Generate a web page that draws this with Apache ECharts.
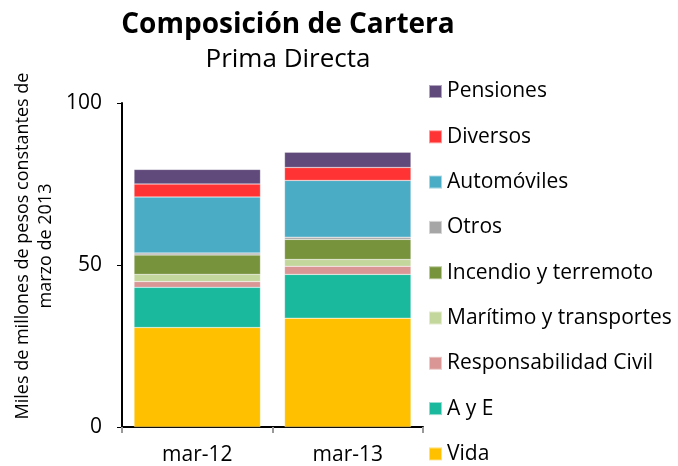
<!DOCTYPE html>
<html>
<head>
<meta charset="utf-8">
<script src="https://cdn.jsdelivr.net/npm/echarts@6/dist/echarts.min.js"></script>
<style>
  html, body { margin: 0; padding: 0; background: #fff; }
  #chart { width: 678px; height: 466px; }
</style>
</head>
<body>
<div id="chart"></div>
<script>
// categorias y valores (miles de millones de pesos)
var categorias = ["mar-12", "mar-13"];
var ramos = ["Vida", "A y E", "Responsabilidad Civil", "Marítimo y transportes",
  "Incendio y terremoto", "Otros", "Automóviles", "Diversos", "Pensiones"];
var colores = ["#FFC000", "#1AB99D", "#D99694", "#C3D69B", "#77933C",
  "#A6A6A6", "#4BACC6", "#FF3333", "#604A7B"];
var vida = [30.7, 33.6];
var ayE = [12.4, 13.5];
var respCivil = [1.8, 2.5];
var maritimo = [2.2, 2.1];
var incendio = [6.0, 6.2];
var otros = [0.6, 0.7];
var autos = [17.3, 17.5];
var diversos = [4.0, 4.0];
var pensiones = [4.5, 4.7];
var valores = [vida, ayE, respCivil, maritimo, incendio, otros, autos, diversos, pensiones];

var myChart = echarts.init(document.getElementById('chart'));

var series = ramos.map(function (nombre, i) {
    return {
        name: nombre,
        type: "bar",
        stack: "total",
        barCategoryGap: "16%",
        itemStyle: { color: colores[i], borderColor: "rgba(255,255,255,0.5)", borderWidth: 0.5 },
        data: valores[i]
    };
});

var option = {
    animation: false,
    textStyle: { fontFamily: "Open Sans" },
    title: [{
        text: "Composición de Cartera",
        left: 283, top: 6,
        textAlign: "center",
        textStyle: { fontSize: 28, fontWeight: "bold", color: "#000", fontFamily: "Open Sans" }
    }, {
        text: "Prima Directa",
        left: 283, top: 42,
        textAlign: "center",
        textStyle: { fontSize: 26, fontWeight: "normal", color: "#000", fontFamily: "Open Sans" }
    }],
    legend: {
        orient: "vertical",
        left: 428, top: 77,
        height: 400,
        padding: 0,
        itemGap: 16.3,
        itemWidth: 13, itemHeight: 13,
        icon: "rect",
        textStyle: { fontSize: 21, color: "#000", padding: [0, 0, 0, 0], lineHeight: 29 },
        data: ramos.slice().reverse()
    },
    grid: { left: 122, right: 255, top: 103, bottom: 38 },
    xAxis: {
        type: "category",
        data: categorias,
        axisLine: { lineStyle: { color: "#000", width: 2 } },
        axisTick: { show: true, length: 6, lineStyle: { color: "#999", width: 2 } },
        axisLabel: { fontSize: 21, color: "#000", margin: 18 }
    },
    yAxis: {
        type: "value",
        min: 0, max: 100, interval: 50,
        name: "Miles de millones de pesos constantes de\nmarzo de 2013",
        nameLocation: "middle",
        nameGap: 65,
        nameTextStyle: { fontSize: 18, color: "#000", lineHeight: 23, padding: [0, 0, 0, 38] },
        axisLine: { show: true, lineStyle: { color: "#000", width: 2 } },
        axisTick: { show: true, length: 5, lineStyle: { color: "#000", width: 1 } },
        axisLabel: { fontSize: 21, color: "#000", margin: 20 },
        splitLine: { show: false }
    },
    series: series
};

myChart.setOption(option);
</script>
</body>
</html>
